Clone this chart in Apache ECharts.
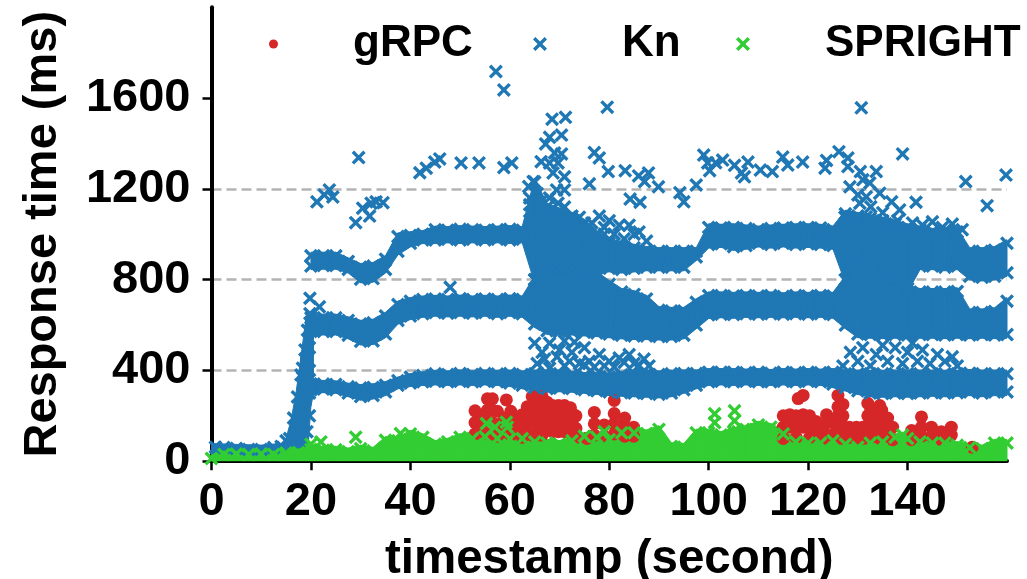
<!DOCTYPE html>
<html><head><meta charset="utf-8">
<style>html,body{margin:0;padding:0;background:#fff}#c{width:1027px;height:579px}</style>
<script src="https://cdn.jsdelivr.net/npm/echarts@6/dist/echarts.min.js"></script>
</head><body><div id="c"></div>
<script>
const bandTimes = [20,22.5,25,27.5,30,32.5,35,37.5,40,42.5,
  45,47.5,50,52.5,55,57.5,60,62.5,65,67.5,
  70,72.5,75,77.5,80,82.5,85,87.5,90,92.5,
  95,97.5,100,102.5,105,107.5,110,112.5,115,117.5,
  120,122.5,125,127.5,130,132.5,135,137.5,140,142.5,
  145,147.5,150,152.5,155,157.5,160];
const lowLo = [315,318,315,300,285,290,305,335,345,350,
  352,350,352,350,352,350,345,335,325,320,
  322,320,315,310,305,302,300,298,295,300,
  315,335,350,352,350,352,350,350,352,350,
  352,350,340,325,310,300,298,300,298,300,
  302,300,302,305,300,305,305];
const lowHi = [340,340,338,328,322,325,335,355,370,378,
  385,382,386,382,386,384,386,382,385,385,
  385,380,375,375,372,380,385,384,382,385,
  386,386,392,392,392,390,392,388,392,390,
  392,390,392,385,385,385,385,385,385,385,
  385,385,385,388,385,385,385];
const midLo = [572,572,572,555,528,530,560,620,640,650,
  655,652,655,652,655,650,655,650,605,575,
  572,572,568,565,560,555,552,552,550,550,
  555,600,645,648,646,650,648,650,648,650,
  648,650,646,600,560,558,556,558,556,558,
  558,556,558,556,558,556,558];
const midHi = [632,632,632,620,605,610,640,690,705,712,
  715,712,716,712,715,712,716,712,800,850,
  850,850,850,820,780,745,735,715,665,662,
  662,700,730,730,728,730,728,730,726,730,
  728,730,728,800,900,900,860,800,760,745,
  745,745,748,655,655,660,705];
const upperLo = [860,862,862,845,802,805,845,925,960,975,
  975,978,975,978,975,978,975,978,800,850,
  850,850,850,850,850,845,850,855,855,855,
  855,900,955,958,945,950,960,955,960,955,
  958,955,950,800,900,900,860,800,760,860,
  860,855,860,815,810,815,830];
const upperHi = [905,905,905,880,855,860,890,990,995,1000,
  1020,1018,1022,1020,1018,1020,1022,1018,1230,1120,
  1100,1080,1050,1000,960,950,940,930,925,925,
  925,925,1030,1028,1030,1025,1020,1025,1028,1030,
  1030,1028,1020,1090,1080,1070,1060,1045,1030,1020,
  1010,1015,1010,925,925,930,960];
const rampTimes = [0,5,10,14,15,16,17,18,19,19.5,20,20.5];
const rampLo = [30,30,30,30,30,35,45,50,60,100,260,310];
const rampHi = [62,58,55,62,85,165,285,445,615,625,640,645];
const knPoints = [
  [0.8,62],[2.5,60],[5,56],[7.5,52],[10,52],[12.5,60],[14,65],[15,90],[15.7,100],[16.5,190],[17.3,283],[18,380],[18.3,410],[18.8,490],[19.3,577],[19.8,650],[19.7,200],[19.7,300],[19.7,400],[19.7,500],[19.2,130],[18,100],[19.8,718],[21.7,680],[48,766],
  [29.6,1338],[21.2,1143],[22.7,1173],[23.7,1195],[24.4,1164],[29,1051],[30.4,1115],[31.8,1080],[32.1,1137],[33.1,1143],[34.5,1139],[41.9,1271],[43.2,1291],[44.9,1318],[45.9,1332],[50.2,1314],[53.8,1314],[58.8,1294],[60.4,1314],[57.2,1717],[58.8,1636],[79.6,1560],[68.5,1507],[71.2,1515],[68,1427],[70.4,1437],[67.2,1398],[69,1358],[70.4,1354],[66.3,1320],[68,1314],[69.7,1314],[68.7,1270],[71,1253],[64.7,1232],[63.8,1210],[64,1130],[64,1060],[64,1160],[65.5,1180],[66.5,1150],[69.4,1195],[71,1195],[77,1360],[78,1336],[79.8,1276],[76,1222],[69.7,1137],[71,1120],[73,1060],[68,1160],[72,1000],
  [83.2,1280],[84.2,1155],[86.2,1141],[85.9,1257],[87.9,1270],[87.1,1232],[89.9,1209],[94.2,1183],[95,1143],[97.5,1217],[99,1349],[99.8,1314],[100.2,1280],[101.4,1315],[102.8,1327],[105.2,1304],[106.6,1270],[107.2,1253],[107.9,1318],[110.4,1283],[112.8,1276],[114.9,1340],[115.9,1305],[118.9,1318],[123.4,1291],[123.7,1325],[126.2,1364],[128,1336],[128,1298],[130.7,1557],[139,1354],[130.5,1276],[133.7,1276],[128.4,1209],[131,1240],[132.4,1226],[130,1173],[131.7,1165],[134.4,1181],[130.4,1137],[132.6,1121],[136.8,1143],[141.7,1141],[138.4,1107],[127.4,1075],[131.7,1077],[135,1095],[151.7,1232],[156,1126],[159.8,1261],
  [65.5,430],[66.5,480],[68,410],[68,520],[69.5,460],[71,530],[71,420],[72.5,480],[74,430],[75,500],[76,440],[78,470],[77,415],[80,440],[81,415],[83,435],[84,470],[86,422],[87,450],[65,520],[70,490],[73,525],[67,450],[72,440],[75,425],[79,420],[82,455],[85,430],[88,420],
  [127,420],[128.5,480],[130,440],[131,500],[132.5,420],[133.7,470],[135,510],[136,440],[137.5,500],[139,430],[140,480],[141,520],[142,440],[143,490],[144.5,430],[146,470],[147.5,440],[149,460],[150,420],
  [74,1075],[75.5,1010],[76.5,1050],[78,1080],[79,1000],[80,1060],[81,1000],[82,1040],[83,980],[84,1040],[85,1000],[86,1010],[87.5,970],[79,1030],[76,980],
  [134,1010],[136,1040],[138,1060],[141,1050],[143,1040],[145,1055],[147,1030],[149,1045],[151,1020]
];
const grpcPoints = [
  [53,222],[53,170],[53,120],[54.5,190],[54.5,130],[55.5,275],[55.5,225],[55.5,170],[55.5,120],[56.5,275],[56.5,225],[56.5,170],[56.5,120],[57.5,220],[57.5,160],[57.5,110],[59.3,270],[59,190],[59,130],[60.2,220],[60.2,165],[60.2,115],[61.5,180],[61.5,125],[62.5,205],[62.5,150],[62.5,105],[54,150],[55,200],[58.5,170],[60,190],[61,150],[62,175],
  [63.5,240],[63.5,180],[63.5,120],[64.5,285],[64.5,230],[64.5,170],[64.5,115],[65.5,285],[65.5,230],[65.5,170],[65.5,115],[66.5,285],[66.5,225],[66.5,170],[66.5,115],[67.5,260],[67.5,200],[67.5,140],[68.6,245],[68.6,190],[68.6,130],[69.8,245],[69.8,190],[69.8,130],[71,245],[71,190],[71,130],[72.2,235],[72.2,180],[72.2,125],[73.3,200],[73.3,145],[73.3,105],
  [64,205],[65,200],[65,260],[66,145],[66,255],[67,170],[67,230],[68,220],[68,165],[69.2,215],[69.2,160],[70.4,215],[70.4,160],[71.6,215],[71.6,160],[72.8,205],[72.8,150],
  [75.5,100],[77,215],[77,165],[77,115],[79,160],[79,110],[81,268],[81,210],[81,165],[81,120],[83.1,190],[83.1,150],[83.1,110],[84.9,150],[84.9,110],
  [115,200],[115,150],[115,100],[116.3,205],[116.3,150],[117.6,200],[117.6,150],[117.6,105],[118,276],[119,290],[119,205],[119,150],[120.3,200],[120.3,150],[120.3,105],[121.6,175],[121.6,120],[123,150],[123,100],[123.7,205],[124.8,170],[124.8,115],[116,175],[118,175],[119.6,175],[122.5,130],[124,175],
  [126,290],[126,240],[126,200],[126,150],[126,100],[127,250],[127,200],[127,150],[127,100],[128.3,150],[128.3,105],[129.7,150],[129.7,100],[131,150],[131,100],[132,255],[132,200],[132,150],[132,100],[133.2,170],[133.2,110],[134.4,245],[134.4,200],[134.4,150],[134.4,100],[135.5,170],[135.5,110],[136,190],[137,150],[137,95],[126.5,175],[128,125],[130.4,125],[132.6,225],[133.4,140],[134.8,225],[135.2,140],
  [140.8,135],[140.8,95],[142.8,195],[142.8,150],[142.8,110],[144.8,150],[144.8,110],[146.8,130],[146.8,95],[148.8,150],[148.8,115],[153,62]
];
const greenTimes = [0,2.5,5,7.5,10,12.5,15,17.5,20,22.5,25,27.5,30,32.5,35,37.5,40,42.5,45,47.5,50,52.5,55,57.5,60,62.5,65,67.5,70,72.5,75,77.5,80,82.5,85,87.5,90,92.5,95,97.5,100,102.5,105,107.5,110,112.5,115,117.5,120,122.5,125,127.5,130,132.5,135,137.5,140,142.5,145,147.5,150,152.5,155,157.5,160];
const greenTop = [12,30,32,30,32,30,36,38,52,48,
  50,42,55,45,92,90,120,105,75,85,
  105,100,108,100,98,100,85,80,75,90,
  110,105,95,125,125,122,140,65,62,125,
  125,115,130,140,160,150,120,85,80,80,
  90,75,62,80,85,105,100,85,80,80,
  70,60,55,80,80];
const greenPoints = [[20,75],[22,85],[29,106],[38,122],[55.3,166],[57,150],[59.3,172],[59.5,150],[79,130],[101.2,209],[101.2,170],[105.2,222],[105.2,178],[105.9,130],[107,140],[139,115]];
const xTicks = [0,20,40,60,80,100,120,140];
const yTicks = [0,400,800,1200,1600];

const X = 'path://M1.7 0L5 3.3L8.3 0L10 1.7L6.7 5L10 8.3L8.3 10L5 6.7L1.7 10L0 8.3L3.3 5L0 1.7Z';
const BLUE = '#1f77b4', RED = '#d62728', GREEN = '#32cd32';
const FONT = '"Liberation Sans", Arial, sans-serif';
const MARKER_REACH = 16; // the solid part of a band reaches past the marker centres by this many ms

function bandSeries(name, times, lo, hi, color) {
  const low = i => lo ? lo[i] - MARKER_REACH : 0;
  const high = i => hi[i] + MARKER_REACH;
  return {
    name, type: 'custom', silent: true, clip: true, animation: false,
    data: times.map((t, i) => [t, lo ? lo[i] : 0, hi[i]]),
    encode: { x: 0, y: [1, 2] },
    renderItem(params, api) {
      const i = params.dataIndex;
      if (i >= times.length - 1) return null;
      const pts = [
        api.coord([times[i], low(i)]),
        api.coord([times[i + 1], low(i + 1)]),
        api.coord([times[i + 1], high(i + 1)]),
        api.coord([times[i], high(i)])
      ];
      return { type: 'polygon', shape: { points: pts }, style: { fill: color, stroke: color, lineWidth: 1 } };
    }
  };
}
function scatter(name, data, symbol, size, color) {
  return { name, type: 'scatter', data, symbol, symbolSize: size, itemStyle: { color, opacity: 1 }, clip: true, animation: false, large: false };
}
const zip = (ts, vs) => ts.map((t, i) => [t, vs[i]]);
const legendText = { fontFamily: FONT, fontWeight: 'bold', fontSize: 44, color: '#000', padding: [0, 0, 0, 70] };

const chart = echarts.init(document.getElementById('c'), null, { renderer: 'canvas' });
chart.setOption({
  animation: false,
  backgroundColor: '#fff',
  grid: { left: 211.5, right: 20, top: 7.3, bottom: 117.8, containLabel: false, outerBoundsMode: 'none' },
  legend: [
    { data: ['gRPC'], left: 264, top: 17, itemWidth: 9, itemHeight: 9, textStyle: legendText, selectedMode: false },
    { data: [{ name: 'Kn', icon: X }], left: 528, top: 17, itemWidth: 14, itemHeight: 14, textStyle: legendText, selectedMode: false },
    { data: [{ name: 'SPRIGHT', icon: X }], left: 731, top: 17, itemWidth: 14, itemHeight: 14, textStyle: legendText, selectedMode: false }
  ],
  xAxis: {
    type: 'value', min: 0, max: 160, interval: 20,
    name: 'timestamp (second)', nameLocation: 'middle', nameGap: 75,
    nameTextStyle: { fontFamily: FONT, fontWeight: 'bold', fontSize: 47.5, color: '#000' },
    axisLine: { show: true, onZero: false, lineStyle: { color: '#000', width: 4 } },
    axisTick: { show: true, length: 9, lineStyle: { color: '#000', width: 2.5 }, customValues: xTicks },
    axisLabel: { fontFamily: FONT, fontWeight: 'bold', fontSize: 47, color: '#000', margin: 17, customValues: xTicks, formatter: v => String(v) },
    splitLine: { show: false }
  },
  yAxis: {
    type: 'value', min: 0, max: 2000, interval: 400,
    name: 'Response time (ms)', nameLocation: 'middle', nameGap: 145, nameRotate: 90,
    nameTextStyle: { fontFamily: FONT, fontWeight: 'bold', fontSize: 47, color: '#000' },
    axisLine: { show: true, onZero: false, lineStyle: { color: '#000', width: 4 } },
    axisTick: { show: true, length: 9, lineStyle: { color: '#000', width: 2.5 }, customValues: yTicks },
    axisLabel: { fontFamily: FONT, fontWeight: 'bold', fontSize: 47, color: '#000', margin: 21, customValues: yTicks, formatter: v => String(v) },
    splitLine: { show: true, showMinLine: false, showMaxLine: false, lineStyle: { color: '#b4b4b4', width: 2.5, type: [10, 5] } }
  },
  series: [
    scatter('gRPC', grpcPoints, 'circle', 13, RED),
    bandSeries('Kn ramp', rampTimes, rampLo, rampHi, BLUE),
    bandSeries('Kn low band', bandTimes, lowLo, lowHi, BLUE),
    bandSeries('Kn middle band', bandTimes, midLo, midHi, BLUE),
    bandSeries('Kn upper band', bandTimes, upperLo, upperHi, BLUE),
    scatter('Kn', zip(bandTimes, lowLo).concat(zip(bandTimes, lowHi), zip(bandTimes, midLo), zip(bandTimes, midHi), zip(bandTimes, upperLo), zip(bandTimes, upperHi), knPoints), X, 14, BLUE),
    bandSeries('SPRIGHT floor', greenTimes, null, greenTop, GREEN),
    scatter('SPRIGHT', zip(greenTimes, greenTop).concat(greenPoints), X, 14, GREEN)
  ]
});
</script></body></html>
